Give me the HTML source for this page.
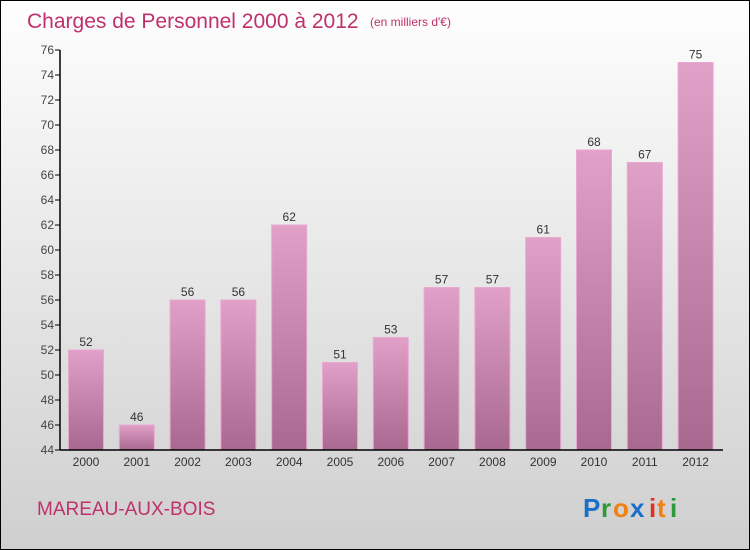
<!DOCTYPE html>
<html><head><meta charset="utf-8"><style>
body{margin:0}
#c{position:relative;width:748px;height:548px;border:1px solid #000;background:linear-gradient(#fefefe,#cfcfcf);font-family:"Liberation Sans",sans-serif;overflow:hidden}
</style></head><body>
<div id="c">
<svg width="748" height="548" id="s">
<defs><linearGradient id="g" x1="0" y1="0" x2="0" y2="1"><stop offset="0" stop-color="#e0a0c8"/><stop offset="1" stop-color="#a86890"/></linearGradient></defs>
<text x="26" y="27" font-size="21" fill="#c0306a">Charges de Personnel 2000 à 2012</text>
<text x="369" y="25" font-size="12" fill="#c0306a">(en milliers d'€)</text>
<text x="36" y="514" font-size="19" fill="#c0306a">MAREAU-AUX-BOIS</text>
<g font-size="26" font-weight="bold">
<text x="582" y="516" fill="#1a70c8">P</text><text x="600" y="516" fill="#2a9a3a">r</text><text x="612" y="516" fill="#f08010">o</text><text x="629" y="516" fill="#1a70c8">x</text><text x="648" y="516" fill="#e03020">i</text><text x="656" y="516" fill="#f08010">t</text><text x="669" y="516" fill="#2a9a3a">i</text></g>
<g id="plot"></g>
</svg></div>
<script>
const years=["2000","2001","2002","2003","2004","2005","2006","2007","2008","2009","2010","2011","2012"];
const values=[52,46,56,56,62,51,53,57,57,61,68,67,75];
const yTicks=[44,46,48,50,52,54,56,58,60,62,64,66,68,70,72,74,76];
const NS="http://www.w3.org/2000/svg";
const p=document.getElementById('plot');
const yMin=44,yMax=76,y0=449,y1=49,x0=59,step=50.8,bw=35;
const Y=v=>y0-(v-yMin)/(yMax-yMin)*(y0-y1);
const X=i=>x0+26+i*step;
function mk(t,a){const e=document.createElementNS(NS,t);for(const k in a)e.setAttribute(k,a[k]);p.appendChild(e);return e;}
values.forEach((v,i)=>{
const r=mk('rect',{x:X(i)-bw/2,y:Y(v),width:bw,height:y0-Y(v),fill:'url(#g)',stroke:'#e8a8d0','stroke-width':1});


const t=mk('text',{x:X(i),y:Y(v)-4,'text-anchor':'middle','font-size':12,fill:'#333'});t.textContent=v;


const l=mk('text',{x:X(i),y:y0+16,'text-anchor':'middle','font-size':12,fill:'#333'});l.textContent=years[i];


});
yTicks.forEach(v=>{
mk('line',{x1:x0-5,x2:x0,y1:Y(v),y2:Y(v),stroke:'#000'});
const t=mk('text',{x:x0-6,y:Y(v)+4,'text-anchor':'end','font-size':12,fill:'#444'});t.textContent=v;


});
const ya=mk('line',{x1:x0,x2:x0,y1:y1,y2:y0,stroke:'#000','stroke-width':1.5});


const xa=mk('line',{x1:x0,x2:722,y1:y0,y2:y0,stroke:'#000','stroke-width':1.5});


</script>
</body></html>
